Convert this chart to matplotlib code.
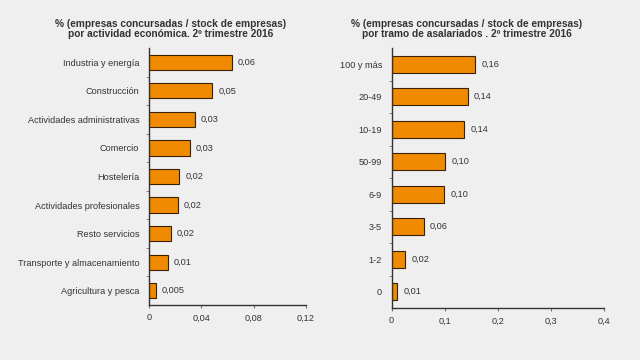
import numpy as np
import matplotlib
matplotlib.use('Agg')
import matplotlib.pyplot as plt
from matplotlib.ticker import FixedLocator, FuncFormatter

plt.rcParams['font.family'] = ['Liberation Sans', 'DejaVu Sans']

# left panel: by economic activity
act_labels = ['Industria y energía', 'Construcción', 'Actividades administrativas',
              'Comercio', 'Hostelería', 'Actividades profesionales',
              'Resto servicios', 'Transporte y almacenamiento', 'Agricultura y pesca']
act_values = [0.0636, 0.0485, 0.035, 0.031, 0.0233, 0.0218, 0.0169, 0.0146, 0.0051]
act_text = ['0,06', '0,05', '0,03', '0,03', '0,02', '0,02', '0,02', '0,01', '0,005']
act_ticks = [0, 0.04, 0.08, 0.12]

# right panel: by number of employees
emp_labels = ['100 y más', '20-49', '10-19', '50-99', '6-9', '3-5', '1-2', '0']
emp_values = [0.157, 0.143, 0.136, 0.1006, 0.0987, 0.060, 0.025, 0.010]
emp_text = ['0,16', '0,14', '0,14', '0,10', '0,10', '0,06', '0,02', '0,01']
emp_ticks = [0, 0.1, 0.2, 0.3, 0.4]

bg = '#efefef'
bar_color = '#f08a00'
txt = '#333333'


def comma(v, pos=None):
    if v == 0:
        return '0'
    return ('%g' % v).replace('.', ',')


def draw(ax, labels, values, texts, ticks, pad):
    n = len(labels)
    y = np.arange(n)[::-1]
    ax.barh(y, values, height=0.53, color=bar_color, edgecolor='#3a2200', linewidth=0.8)
    for yi, v, t in zip(y, values, texts):
        ax.text(v + pad, yi, t, va='center', ha='left', fontsize=6.6, color=txt)
    ax.set_ylim(-0.5, n - 0.5)
    ax.set_xlim(ticks[0], ticks[-1])
    ax.set_facecolor(bg)
    ax.set_yticks(y)
    ax.set_yticklabels(labels)
    ax.yaxis.set_minor_locator(FixedLocator(np.arange(n - 1) + 0.5))
    ax.tick_params(axis='y', which='major', length=0, pad=7, labelsize=6.6, labelcolor=txt)
    ax.tick_params(axis='y', which='minor', length=2, color='#777777')
    ax.set_xticks(ticks)
    ax.xaxis.set_major_formatter(FuncFormatter(comma))
    ax.tick_params(axis='x', length=2, pad=4, labelsize=6.6, labelcolor=txt, color='#777777')
    for s in ['top', 'right']:
        ax.spines[s].set_visible(False)
    for s in ['left', 'bottom']:
        ax.spines[s].set_color('#333333')
        ax.spines[s].set_linewidth(1.0)


fig = plt.figure(figsize=(6.4, 3.6), dpi=100, facecolor=bg)
ax1 = fig.add_axes([0.2328, 0.1528, 0.2453, 0.7139])
ax2 = fig.add_axes([0.612, 0.1444, 0.3317, 0.7222])

draw(ax1, act_labels, act_values, act_text, act_ticks, 0.0045)
draw(ax2, emp_labels, emp_values, emp_text, emp_ticks, 0.012)

fig.text(0.267, 0.919, '% (empresas concursadas / stock de empresas)\npor actividad económica. 2º trimestre 2016',
         ha='center', va='center', fontsize=7.3, fontweight='bold', color=txt, linespacing=1.05)
fig.text(0.729, 0.919, '% (empresas concursadas / stock de empresas)\npor tramo de asalariados . 2º trimestre 2016',
         ha='center', va='center', fontsize=7.3, fontweight='bold', color=txt, linespacing=1.05)

fig.savefig('out.png', dpi=100, facecolor=bg)
